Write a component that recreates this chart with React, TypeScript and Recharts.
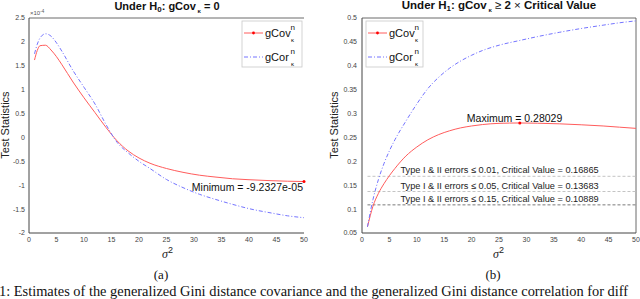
import React from "react";
import { LineChart, Line, XAxis, YAxis, ReferenceLine, ReferenceDot } from "recharts";

// panel (a): under H0, values in units of 1e-4
const sigmaLeft = [1, 1.5, 2, 3, 4, 5, 6, 8, 10, 12, 14, 16, 18, 20, 22, 25, 28, 31, 34, 37, 40, 44, 47, 50];
const covLeft = [1.62, 1.82, 1.92, 1.93, 1.83, 1.69, 1.52, 1.16, 0.83, 0.52, 0.21, -0.07, -0.28, -0.43, -0.54, -0.65, -0.73, -0.79, -0.83, -0.865, -0.885, -0.905, -0.916, -0.923];
const corLeft = [1.75, 1.95, 2.08, 2.17, 2.12, 1.98, 1.8, 1.4, 1.05, 0.7, 0.27, -0.1, -0.32, -0.5, -0.65, -0.88, -1.05, -1.19, -1.3, -1.4, -1.49, -1.58, -1.64, -1.68];
const leftYTicks = [-2, -1.5, -1, -0.5, 0, 0.5, 1, 1.5, 2, 2.5];
const minPoint = { x: 50, y: -0.923, label: "Minimum = -9.2327e-05" };

// panel (b): under H1
const sigmaRight = [1, 2, 3, 4, 5, 6, 8, 10, 12, 14, 16, 18, 20, 22, 25, 28.8, 32, 36, 40, 44, 47, 50];
const covRight = [0.063, 0.106, 0.133, 0.153, 0.17, 0.185, 0.211, 0.23, 0.245, 0.256, 0.264, 0.27, 0.274, 0.277, 0.2795, 0.28029, 0.2798, 0.2785, 0.2765, 0.274, 0.2715, 0.269];
const corRight = [0.063, 0.12, 0.162, 0.195, 0.222, 0.245, 0.284, 0.32, 0.352, 0.376, 0.395, 0.41, 0.422, 0.432, 0.443, 0.453, 0.461, 0.47, 0.478, 0.485, 0.49, 0.494];
const rightYTicks = [0.05, 0.1, 0.15, 0.2, 0.25, 0.3, 0.35, 0.4, 0.45, 0.5];
const maxPoint = { x: 28.8, y: 0.28029, label: "Maximum = 0.28029" };

const errorLevels = ["0.01", "0.05", "0.15"];
const criticalValues = [0.16865, 0.13683, 0.10889];
const criticalColors = ["#c4c4c4", "#c4c4c4", "#7a7a7a"];

const xTicks = [0, 5, 10, 15, 20, 25, 30, 35, 40, 45, 50];

const RED = "#ff5c5c";
const BLUE = "#7474ff";
const AXIS = "#444";
const SANS = "'Liberation Sans', Arial, sans-serif";
const SERIF = "'Liberation Serif', 'Times New Roman', serif";

const leftData = sigmaLeft.map((s, i) => ({ s, cov: covLeft[i], cor: corLeft[i] }));
const rightData = sigmaRight.map((s, i) => ({ s, cov: covRight[i], cor: corRight[i] }));

const tickStyle = { fontSize: 7, fill: "#444", fontFamily: SANS };

const LegendBox = ({ x, w }: { x: number; w: number }) => (
  <g fontFamily={SANS} fill="#111">
    <rect x={x} y={21} width={w} height={46} fill="#fff" stroke="#c8c8c8" strokeWidth={0.8} />
    <line x1={x + 2} x2={x + 21} y1={33} y2={33} stroke={RED} strokeWidth={1} />
    <circle cx={x + 11.5} cy={33} r={1.4} fill="#f00" />
    <text x={x + 23} y={37} fontSize={11}>gCov</text>
    <text x={x + 48.5} y={30} fontSize={8}>n</text>
    <text x={x + 49} y={42} fontSize={6}>κ</text>
    <line x1={x + 2} x2={x + 21} y1={57} y2={57} stroke={BLUE} strokeWidth={1} strokeDasharray="4 2 1 2" />
    <text x={x + 23} y={61} fontSize={11}>gCor</text>
    <text x={x + 48.5} y={54} fontSize={8}>n</text>
    <text x={x + 49} y={66} fontSize={6}>κ</text>
  </g>
);

export default function App() {
  return (
    <div style={{ position: "fixed", left: 0, top: 0, width: 640, height: 299, overflow: "hidden", background: "#fff" }}>
      <div style={{ position: "absolute", left: 0, top: 0 }}>
        <LineChart width={320} height={299} data={leftData} margin={{ top: 18, right: 16, bottom: 46, left: 4 }}>
          <XAxis type="number" dataKey="s" domain={[0, 50]} ticks={xTicks} tick={tickStyle}
            tickLine={false} tickSize={3} tickMargin={1} axisLine={{ stroke: AXIS }} height={20} />
          <YAxis type="number" domain={[-2, 2.5]} ticks={leftYTicks} tick={tickStyle} width={25}
            tickLine={false} tickSize={3} tickMargin={1} axisLine={{ stroke: AXIS }} />
          <ReferenceLine y={2.5} stroke={AXIS} strokeWidth={0.8} />
          <Line type="monotone" dataKey="cov" stroke={RED} strokeWidth={1} dot={false} isAnimationActive={false} />
          <Line type="monotone" dataKey="cor" stroke={BLUE} strokeWidth={1} strokeDasharray="4 2 1 2" dot={false} isAnimationActive={false} />
          <ReferenceDot x={minPoint.x} y={minPoint.y} r={1.5}
            shape={(p: any) => (
              <g>
                <circle cx={p.cx} cy={p.cy} r={1.5} fill="#f00" />
                <text x={p.cx - 1} y={p.cy + 9} textAnchor="end" fontSize={10.5} fontFamily={SANS} fill="#111">{minPoint.label}</text>
              </g>
            )} />
        </LineChart>
      </div>

      <div style={{ position: "absolute", left: 320, top: 0 }}>
        <LineChart width={320} height={299} data={rightData} margin={{ top: 18, right: 4, bottom: 46, left: 12 }}>
          <XAxis type="number" dataKey="s" domain={[0, 50]} ticks={xTicks} tick={tickStyle}
            tickLine={false} tickSize={3} tickMargin={1} axisLine={{ stroke: AXIS }} height={20} />
          <YAxis type="number" domain={[0.05, 0.5]} ticks={rightYTicks} tick={tickStyle} width={30}
            tickLine={false} tickSize={4} tickMargin={1} axisLine={{ stroke: AXIS }} />
          <ReferenceLine y={0.5} stroke={AXIS} strokeWidth={0.8} />
          <ReferenceLine x={50} stroke={AXIS} strokeWidth={0.8} />
          {criticalValues.map((v, i) => (
            <ReferenceLine key={v} segment={[{ x: 1, y: v }, { x: 50, y: v }]}
              shape={(p: any) => (
                <g>
                  <line x1={p.x1} y1={p.y1} x2={p.x2} y2={p.y2} stroke={criticalColors[i]} strokeWidth={1} strokeDasharray="3 2" />
                  <text x={p.x1 + 33} y={p.y1 - 3} fontSize={9.2} fontFamily={SANS} fill="#222">
                    {`Type I & II errors ≤ ${errorLevels[i]}, Critical Value = ${v}`}
                  </text>
                </g>
              )} />
          ))}
          <Line type="monotone" dataKey="cov" stroke={RED} strokeWidth={1} dot={false} isAnimationActive={false} />
          <Line type="monotone" dataKey="cor" stroke={BLUE} strokeWidth={1} strokeDasharray="4 2 1 2" dot={false} isAnimationActive={false} />
          <ReferenceDot x={maxPoint.x} y={maxPoint.y} r={1.5}
            shape={(p: any) => (
              <g>
                <circle cx={p.cx} cy={p.cy} r={1.5} fill="#f00" />
                <text x={p.cx - 53} y={p.cy - 1} fontSize={10.5} fontFamily={SANS} fill="#111">{maxPoint.label}</text>
              </g>
            )} />
        </LineChart>
      </div>

      <svg width={640} height={299} style={{ position: "absolute", left: 0, top: 0, pointerEvents: "none" }}>
        {/* titles */}
        <text x={167} y={10} textAnchor="middle" fontSize={11} fontWeight="bold" fontFamily={SANS} fill="#111">
          Under H<tspan fontSize={8} dy={2}>0</tspan><tspan dy={-2}>: gCov</tspan>
          <tspan fontSize={6} dy={3}> κ</tspan><tspan dy={-3}> = 0</tspan>
        </text>
        <text x={499} y={9} textAnchor="middle" fontSize={11.5} fontWeight="bold" fontFamily={SANS} fill="#111">
          Under H<tspan fontSize={8} dy={2}>1</tspan><tspan dy={-2}>: gCov</tspan>
          <tspan fontSize={6} dy={3}> κ</tspan><tspan dy={-3} fontWeight="normal"> ≥ </tspan>2<tspan fontWeight="normal"> × </tspan>Critical Value
        </text>

        {/* multiplier */}
        <text x={30} y={15} fontSize={6} fontFamily={SANS} fill="#555">
          ×10<tspan fontSize={4.5} dy={-2.5}>-4</tspan>
        </text>

        {/* y labels */}
        <text transform="translate(9,125) rotate(-90)" textAnchor="middle" fontSize={11} fontFamily={SANS} fill="#222">Test Statistics</text>
        <text transform="translate(338,125) rotate(-90)" textAnchor="middle" fontSize={11} fontFamily={SANS} fill="#222">Test Statistics</text>

        {/* x labels */}
        <text x={162} y={258} fontSize={12} fontStyle="italic" fontFamily={SERIF} fill="#222">
          σ<tspan fontSize={9} fontStyle="normal" fontFamily={SANS} dy={-5}>2</tspan>
        </text>
        <text x={493} y={258} fontSize={12} fontStyle="italic" fontFamily={SERIF} fill="#222">
          σ<tspan fontSize={9} fontStyle="normal" fontFamily={SANS} dy={-5}>2</tspan>
        </text>

        {/* panel captions */}
        <text x={161} y={279} textAnchor="middle" fontSize={13} fontFamily={SERIF} fill="#111">(a)</text>
        <text x={493} y={279} textAnchor="middle" fontSize={13} fontFamily={SERIF} fill="#111">(b)</text>
        <text x={-1} y={296} fontSize={14.4} fontFamily={SERIF} fill="#111">
          1: Estimates of the generalized Gini distance covariance and the generalized Gini distance correlation for diff
        </text>

        <LegendBox x={242} w={60} />
        <LegendBox x={366} w={57} />
      </svg>
    </div>
  );
}
